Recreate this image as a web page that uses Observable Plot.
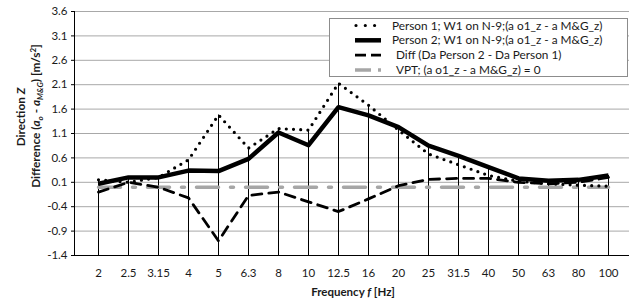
<!DOCTYPE html>
<html>
<head>
<meta charset="utf-8">
<script src="https://cdn.jsdelivr.net/npm/d3@7"></script>
<script src="https://cdn.jsdelivr.net/npm/@observablehq/plot@0.6"></script>
<style>
  html, body { margin: 0; padding: 0; background: #fff; }
  #chart { width: 629px; height: 302px; }
  svg { font-family: "Lato", "Open Sans", sans-serif; }
</style>
</head>
<body>
<div id="chart"></div>
<script>
// ---- data ----
const freqs = ["2","2.5","3.15","4","5","6.3","8","10","12.5","16","20","25","31.5","40","50","63","80","100"];
const person1 = [0.15, 0.10, 0.20, 0.56, 1.48, 0.80, 1.20, 1.17, 2.13, 1.68, 1.17, 0.68, 0.46, 0.24, 0.12, 0.07, 0.04, 0.02];
const person2 = [0.07, 0.20, 0.20, 0.34, 0.33, 0.58, 1.12, 0.86, 1.64, 1.47, 1.23, 0.85, 0.64, 0.41, 0.18, 0.13, 0.15, 0.24];
const diffVals = [-0.10, 0.10, 0.00, -0.22, -1.10, -0.17, -0.10, -0.30, -0.50, -0.24, 0.03, 0.16, 0.18, 0.18, 0.10, 0.07, 0.10, 0.20];
const vptVals = [0, 0, 0, 0, 0, 0, 0, 0, 0, 0, 0, 0, 0, 0, 0, 0, 0, 0];
const yTicks = [-1.4, -0.9, -0.4, 0.1, 0.6, 1.1, 1.6, 2.1, 2.6, 3.1, 3.6];
const legendLabels = [
  "Person 1; W1 on N-9;(a o1_z - a M&G_z)",
  "Person 2; W1 on N-9;(a o1_z - a M&G_z)",
  "Diff (Da Person 2 - Da Person 1)",
  "VPT; (a o1_z - a M&G_z) = 0"
];

// ---- build table ----
const rows = freqs.map((f, i) => ({
  f, p1: person1[i], p2: person2[i], diff: diffVals[i], vpt: vptVals[i],
  top: Math.max(person1[i], person2[i], diffVals[i], vptVals[i])
}));

const textColor = "#1a1a1a";
const styles = {
  p1: {stroke: "#000", strokeWidth: 3.2, strokeDasharray: "0,7.2", strokeLinecap: "round"},
  p2: {stroke: "#000", strokeWidth: 4.5, strokeLinecap: "butt"},
  diff: {stroke: "#000", strokeWidth: 2.8, strokeDasharray: "10,7"},
  vpt: {stroke: "#a6a6a6", strokeWidth: 3.5, strokeDasharray: "22,12,3,12"}
};

const chart = Plot.plot({
  width: 629,
  height: 302,
  marginLeft: 74,
  marginRight: 0,
  marginTop: 11,
  marginBottom: 47,
  style: {fontSize: "11.5px", fontFamily: "Lato, 'Open Sans', sans-serif", color: textColor, background: "#fff"},
  x: {type: "point", domain: freqs, range: [90, 616], padding: 0},
  y: {domain: [-1.4, 3.6], range: [255, 11]},
  marks: [
    Plot.gridY(yTicks, {stroke: "#a8a8a8", strokeOpacity: 1, strokeWidth: 1}),
    Plot.ruleX(rows, {x: "f", y1: -1.4, y2: "top", stroke: "#000", strokeWidth: 1}),
    Plot.line(rows, {x: "f", y: "vpt", ...styles.vpt}),
    Plot.line(rows, {x: "f", y: "diff", ...styles.diff}),
    Plot.line(rows, {x: "f", y: "p1", ...styles.p1}),
    Plot.line(rows, {x: "f", y: "p2", ...styles.p2}),
    Plot.frame({anchor: "left", stroke: "#000", strokeWidth: 1}),
    Plot.frame({anchor: "bottom", stroke: "#000", strokeWidth: 1}),
    Plot.axisY(yTicks, {tickSize: 3, tickPadding: 4, tickFormat: d => d.toFixed(1), label: null, stroke: "#000", fill: textColor}),
    Plot.axisX(freqs, {tickSize: 0, tickPadding: 13, label: null, fill: textColor})
  ]
});

document.getElementById("chart").appendChild(chart);

// ---- titles & legend ----
const svg = d3.select(chart);
const fontFam = "Lato, 'Open Sans', sans-serif";

// x title
const xt = svg.append("text")
  .attr("x", 353).attr("y", 296)
  .attr("text-anchor", "middle")
  .attr("font-family", fontFam).attr("font-size", 11.5).attr("font-weight", "bold").attr("fill", textColor);
xt.append("tspan").text("Frequency ");
xt.append("tspan").attr("font-style", "italic").text("f");
xt.append("tspan").text(" [Hz]");

// y title (two lines)
const yt1 = svg.append("text")
  .attr("transform", "translate(25,117) rotate(-90)")
  .attr("text-anchor", "middle")
  .attr("font-family", fontFam).attr("font-size", 11.8).attr("font-weight", "bold").attr("fill", textColor);
yt1.append("tspan").text("Direction ");
yt1.append("tspan").attr("font-style", "italic").text("Z");

const yt2 = svg.append("text")
  .attr("transform", "translate(40,116) rotate(-90)")
  .attr("text-anchor", "middle")
  .attr("font-family", fontFam).attr("font-size", 11.8).attr("font-weight", "bold").attr("fill", textColor);
yt2.append("tspan").text("Difference (");
yt2.append("tspan").attr("font-style", "italic").text("a");
yt2.append("tspan").attr("font-style", "italic").attr("font-size", 8).attr("dy", 3).text("o");
yt2.append("tspan").attr("dy", -3).text(" - ");
yt2.append("tspan").attr("font-style", "italic").text("a");
yt2.append("tspan").attr("font-style", "italic").attr("font-size", 8).attr("dy", 3).text("M&G");
yt2.append("tspan").attr("dy", -3).text(") [m/s");
yt2.append("tspan").attr("font-size", 8).attr("dy", -4).text("2");
yt2.append("tspan").attr("dy", 4).text("]");

// legend
const lg = svg.append("g").attr("text-anchor", "start");
lg.append("rect").attr("x", 329.5).attr("y", 18.5).attr("width", 298).attr("height", 58)
  .style("fill", "#ffffff").style("stroke", "#8c8c8c").style("stroke-width", "1px");
const keys = ["p1", "p2", "diff", "vpt"];
const textX = [392, 392, 396, 396];
keys.forEach((k, i) => {
  const yy = 25.5 + i * 14.8;
  const s = styles[k];
  const ln = lg.append("line").attr("x1", k === "p1" ? 356 : 355).attr("x2", 381).attr("y1", yy).attr("y2", yy)
    .attr("stroke", s.stroke).attr("stroke-width", s.strokeWidth);
  if (k === "p1") ln.attr("stroke-dasharray", "0,9.3").attr("stroke-linecap", "round");
  if (k === "diff") ln.attr("stroke-dasharray", "11,5");
  if (k === "vpt") ln.attr("stroke-dasharray", "16,7,3,20");
  lg.append("text").attr("x", textX[i]).attr("y", yy).attr("dy", "0.35em")
    .attr("text-anchor", "start")
    .attr("font-family", fontFam).attr("font-size", 11.8).attr("fill", textColor)
    .text(legendLabels[i]);
});
</script>
</body>
</html>
